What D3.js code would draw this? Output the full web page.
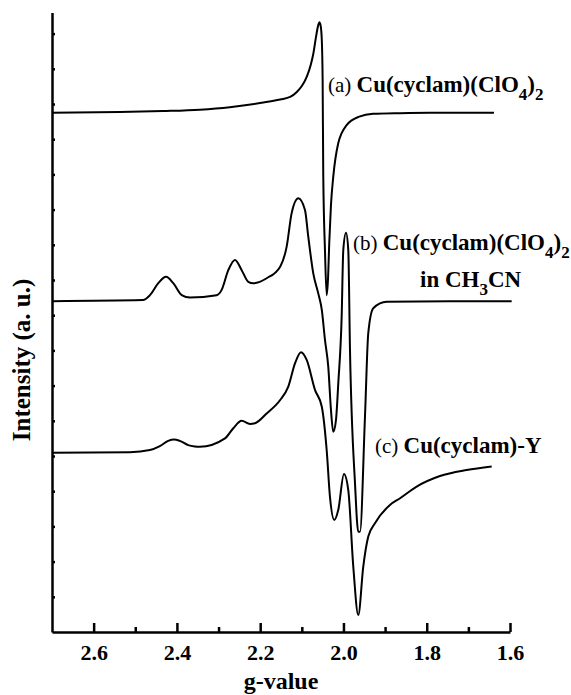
<!DOCTYPE html>
<html lang="en">
<head>
<meta charset="UTF-8">
<title>EPR spectra Cu(cyclam)</title>
<script src="https://d3js.org/d3.v7.min.js"></script>
<style>
  body { margin: 0; background: #fff; }
  svg { display: block; }
  text { font-family: "Liberation Serif", "Times New Roman", serif; fill: #000; }
  .axis path, .axis line { stroke: #000; stroke-width: 2.5; }
  .spec { fill: none; stroke: #000; stroke-width: 2; }
  .lab { font-size: 23px; font-weight: bold; }
  .tag { font-size: 21px; font-weight: normal; }
</style>
</head>
<body>
<svg width="571" height="695"></svg>
<script>
// g-value, intensity (a.u., stacked offsets as plotted)
const specA = [
  [2.700, 14.75], [2.537, 14.77], [2.433, 14.80], [2.345, 14.84], [2.273, 14.91],
  [2.193, 15.04], [2.152, 15.13], [2.128, 15.20], [2.112, 15.34], [2.100, 15.51],
  [2.088, 15.78], [2.078, 16.14], [2.0725, 16.42], [2.066, 16.90], [2.061, 17.22],
  [2.058, 17.32], [2.055, 17.24], [2.052, 16.82], [2.050, 15.68], [2.0485, 12.98],
  [2.0444, 10.85], [2.0403, 9.57], [2.0372, 10.00], [2.0341, 11.05], [2.030, 12.13],
  [2.0245, 12.93], [2.0124, 13.89], [1.9923, 14.40], [1.962, 14.64], [1.929, 14.72],
  [1.864, 14.74], [1.792, 14.75], [1.6385, 14.75]
];
const specB = [
  [2.700, 9.40], [2.4815, 9.43], [2.4647, 9.57], [2.4447, 9.91], [2.4262, 10.09],
  [2.4087, 9.91], [2.3885, 9.57], [2.3686, 9.50], [2.3045, 9.57], [2.2925, 9.72],
  [2.2766, 10.28], [2.2605, 10.57], [2.2444, 10.28], [2.2286, 9.95], [2.2166, 9.91],
  [2.1844, 10.05], [2.152, 10.38], [2.1364, 10.95], [2.1244, 11.90], [2.1085, 12.32],
  [2.0924, 11.99], [2.0845, 11.23], [2.0725, 10.19], [2.0605, 9.62], [2.052, 9.15],
  [2.0444, 8.30], [2.0365, 7.54], [2.030, 6.31], [2.0245, 5.69], [2.018, 6.02],
  [2.0124, 7.07], [2.0043, 8.96], [2.0004, 10.85], [1.9939, 11.34], [1.9884, 10.85],
  [1.9843, 8.01], [1.9723, 4.23], [1.9644, 2.85], [1.9603, 2.85], [1.9483, 6.12],
  [1.9404, 8.49], [1.9284, 9.20], [1.8962, 9.38], [1.7442, 9.40], [1.596, 9.40]
];
const specC = [
  [2.700, 5.09], [2.513, 5.11], [2.465, 5.17], [2.441, 5.28], [2.421, 5.43],
  [2.407, 5.47], [2.393, 5.43], [2.373, 5.31], [2.357, 5.27], [2.345, 5.26],
  [2.2845, 5.50], [2.2646, 5.79], [2.2444, 6.00], [2.2245, 5.91], [2.2125, 5.93],
  [2.1844, 6.21], [2.152, 6.59], [2.1325, 6.97], [2.1164, 7.63], [2.102, 7.95],
  [2.0883, 7.73], [2.0684, 6.88], [2.052, 6.40], [2.0403, 5.17], [2.0324, 3.84],
  [2.022, 3.18], [2.0124, 3.47], [1.9988, 4.49], [1.9884, 4.03], [1.9764, 1.86],
  [1.9644, 0.48], [1.9524, 1.86], [1.9404, 2.71], [1.9243, 3.09], [1.8883, 3.61],
  [1.864, 3.80], [1.8242, 4.13], [1.7682, 4.43], [1.7041, 4.60], [1.644, 4.70]
];
const spectra = [specA, specB, specC];

const majorTicks = [2.6, 2.4, 2.2, 2.0, 1.8, 1.6];
const minorTicks = [2.5, 2.3, 2.1, 1.9, 1.7];
const yTicks = d3.range(1, 18);

const svg = d3.select("svg");
const x = d3.scaleLinear().domain([2.7, 1.6]).range([52, 510]);
const y = d3.scaleLinear().domain([0, 17.6]).range([632, 12.5]);
const serif = "Liberation Serif, Times New Roman, serif";

// spectra
const line = d3.line()
  .x(d => x(d[0]))
  .y(d => y(d[1]))
  .curve(d3.curveMonotoneX);

svg.selectAll("path.spec")
  .data(spectra)
  .join("path")
  .attr("class", "spec")
  .attr("d", line);

// x axis: minor ticks first, then major with labels
svg.append("g")
  .attr("class", "axis")
  .attr("transform", "translate(0,632)")
  .call(d3.axisBottom(x).tickValues(minorTicks).tickSize(-5).tickFormat(""))
  .call(g => g.select(".domain").remove());

svg.append("g")
  .attr("class", "axis")
  .attr("transform", "translate(0,632)")
  .call(d3.axisBottom(x).tickValues(majorTicks).tickSizeInner(-9).tickSizeOuter(0)
    .tickPadding(12).tickFormat(d3.format(".1f")))
  .attr("font-family", serif)
  .attr("font-size", 22)
  .attr("font-weight", "bold");

// y axis, ticks inside, no labels
svg.append("g")
  .attr("class", "axis")
  .attr("transform", "translate(52,0)")
  .call(d3.axisLeft(y).tickValues(yTicks).tickSizeInner(-3).tickSizeOuter(0).tickFormat(""))
  .call(g => g.selectAll(".tick line").attr("stroke-width", 2));

// axis titles
svg.append("text")
  .attr("x", 281).attr("y", 689)
  .attr("text-anchor", "middle")
  .attr("font-size", 24).attr("font-weight", "bold")
  .text("g-value");

svg.append("text")
  .attr("transform", "translate(30,360) rotate(-90)")
  .attr("text-anchor", "middle")
  .attr("font-size", 25).attr("font-weight", "bold")
  .text("Intensity (a. u.)");

// curve labels
function formula(sx, sy, tag) {
  const txt = svg.append("text").attr("x", sx).attr("y", sy);
  txt.append("tspan").attr("class", "tag").text(tag + " ");
  const b = txt.append("tspan").attr("class", "lab");
  b.append("tspan").text("Cu(cyclam)(ClO");
  b.append("tspan").attr("dy", 8).attr("font-size", 17).text("4");
  b.append("tspan").attr("dy", -8).text(")");
  b.append("tspan").attr("dy", 8).attr("font-size", 17).text("2");
  return txt;
}
formula(328, 92, "(a)");
formula(353, 250, "(b)");

const cn = svg.append("text").attr("class", "lab").attr("x", 420).attr("y", 287);
cn.append("tspan").text("in CH");
cn.append("tspan").attr("dy", 8).attr("font-size", 17).text("3");
cn.append("tspan").attr("dy", -8).text("CN");

const lc = svg.append("text").attr("x", 375).attr("y", 453);
lc.append("tspan").attr("class", "tag").text("(c) ");
lc.append("tspan").attr("class", "lab").text("Cu(cyclam)-Y");
</script>
</body>
</html>
